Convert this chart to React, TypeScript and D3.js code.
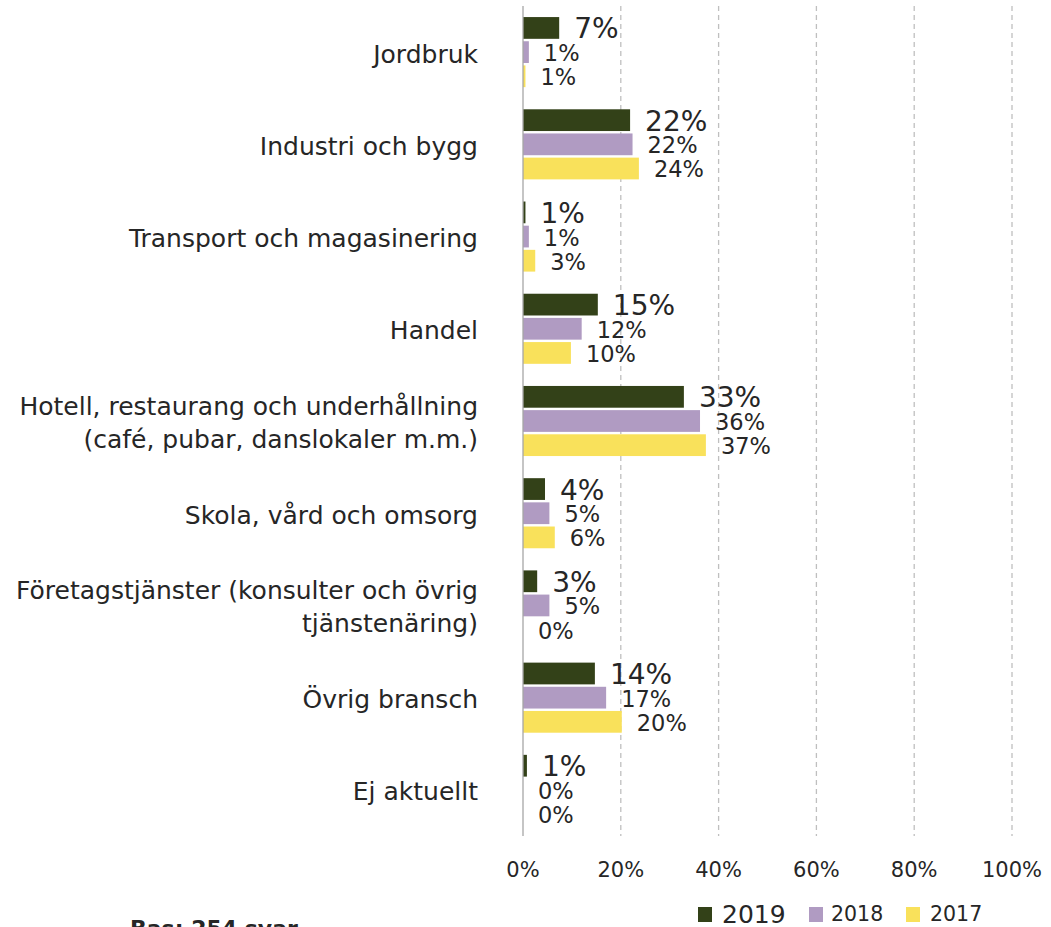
import React from "react";
import * as d3 from "d3";

// categories (multi-line labels split with \n)
const categories = [
  "Jordbruk",
  "Industri och bygg",
  "Transport och magasinering",
  "Handel",
  "Hotell, restaurang och underhållning\n(café, pubar, danslokaler m.m.)",
  "Skola, vård och omsorg",
  "Företagstjänster (konsulter och övrig\ntjänstenäring)",
  "Övrig bransch",
  "Ej aktuellt",
];

const seriesNames = ["2019", "2018", "2017"];

// bar lengths (percent), labels are the rounded values
const values2019 = [7.4, 21.9, 0.5, 15.3, 32.9, 4.5, 2.9, 14.7, 0.8];
const values2018 = [1.2, 22.4, 1.2, 12.0, 36.2, 5.4, 5.4, 17.0, 0];
const values2017 = [0.5, 23.7, 2.5, 9.8, 37.4, 6.5, 0, 20.2, 0];

const labels2019 = ["7%", "22%", "1%", "15%", "33%", "4%", "3%", "14%", "1%"];
const labels2018 = ["1%", "22%", "1%", "12%", "36%", "5%", "5%", "17%", "0%"];
const labels2017 = ["1%", "24%", "3%", "10%", "37%", "6%", "0%", "20%", "0%"];

const xTicks = [0, 20, 40, 60, 80, 100];

const colors = ["#334118", "#b09bc2", "#f9e15b"];
const textColor = "#262626";
const font = "'DejaVu Sans', Verdana, sans-serif";

export default function App() {
  const width = 1051;
  const height = 927;
  const plot = { left: 523, right: 1012, top: 6, bottom: 836 };

  const x = d3.scaleLinear().domain([0, 100]).range([plot.left, plot.right]);
  const y = d3.scaleBand<string>().domain(categories).range([plot.top, plot.bottom]);
  const step = y.step();
  const inner = d3
    .scaleBand<string>()
    .domain(seriesNames)
    .range([step * 0.12, step * 0.88])
    .paddingInner(0.1);

  const seriesValues = [values2019, values2018, values2017];
  const seriesLabels = [labels2019, labels2018, labels2017];
  const labelSizes = [28, 22.5, 22.5];

  const legendItems = [
    { name: "2019", x: 698, gap: 24, size: 25 },
    { name: "2018", x: 809, gap: 22, size: 20.5 },
    { name: "2017", x: 906, gap: 24, size: 20.5 },
  ];

  return (
    <svg
      width={width}
      height={height}
      style={{ position: "absolute", left: 0, top: 0, background: "#fff" }}
      fontFamily={font}
    >
      {/* gridlines */}
      {xTicks.slice(1).map((t) => (
        <line
          key={t}
          x1={x(t)}
          x2={x(t)}
          y1={plot.top}
          y2={plot.bottom}
          stroke="#bfbfbf"
          strokeWidth={1.3}
          strokeDasharray="5,4"
        />
      ))}

      {/* bars and value labels */}
      {categories.map((c, i) => (
        <g key={c} transform={`translate(0,${y(c)})`}>
          {seriesNames.map((s, k) => {
            const v = seriesValues[k][i];
            const by = inner(s)!;
            const bh = inner.bandwidth();
            return (
              <g key={s}>
                {v > 0 && (
                  <rect
                    x={x(0)}
                    y={by}
                    width={x(v) - x(0)}
                    height={bh}
                    fill={colors[k]}
                  />
                )}
                <text
                  x={x(v) + 15}
                  y={by + bh / 2 + 1}
                  dominantBaseline="central"
                  fontSize={labelSizes[k]}
                  fill={textColor}
                >
                  {seriesLabels[k][i]}
                </text>
              </g>
            );
          })}
        </g>
      ))}

      {/* value axis line */}
      <line x1={x(0)} x2={x(0)} y1={plot.top} y2={plot.bottom} stroke="#a6a6a6" strokeWidth={1.3} />

      {/* category labels */}
      {categories.map((c) => {
        const lines = c.split("\n");
        const cy = y(c)! + step / 2 + 2;
        const lh = 33;
        return (
          <text key={c} textAnchor="end" fontSize={25} fill={textColor}>
            {lines.map((l, j) => (
              <tspan
                key={j}
                x={478}
                y={cy + (j - (lines.length - 1) / 2) * lh}
                dominantBaseline="central"
              >
                {l}
              </tspan>
            ))}
          </text>
        );
      })}

      {/* tick labels */}
      {xTicks.map((t) => (
        <text
          key={t}
          x={x(t)}
          y={870}
          textAnchor="middle"
          dominantBaseline="central"
          fontSize={21}
          fill={textColor}
        >
          {t}%
        </text>
      ))}

      {/* legend */}
      {legendItems.map((d, k) => (
        <g key={d.name}>
          <rect x={d.x} y={907} width={14} height={15} fill={colors[k]} />
          <text
            x={d.x + d.gap}
            y={914}
            dominantBaseline="central"
            fontSize={d.size}
            fill={textColor}
          >
            {d.name}
          </text>
        </g>
      ))}

      {/* footnote (cut by the bottom edge, as in the source) */}
      <text x={130} y={936} fontSize={22} fontWeight="bold" fill={textColor}>
        Bas: 254 svar
      </text>
    </svg>
  );
}
